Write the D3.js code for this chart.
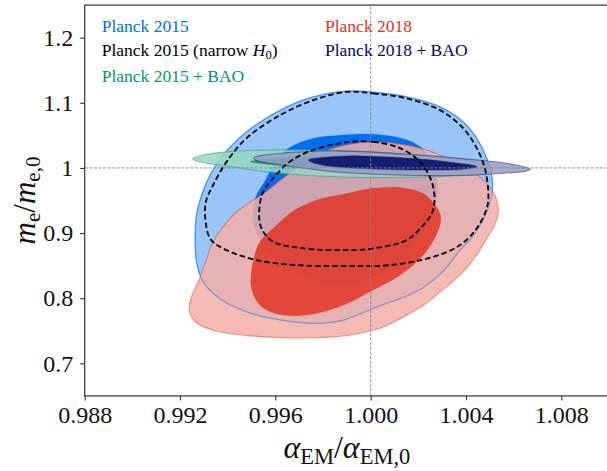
<!DOCTYPE html>
<html><head><meta charset="utf-8">
<script src="https://cdn.jsdelivr.net/npm/d3@7"></script>
<style>body{margin:0;background:#fff} svg{display:block} text{font-family:"Liberation Serif","DejaVu Serif","Noto Serif","Times New Roman",serif;}</style>
</head><body><svg id="c" width="607" height="471"></svg>
<script>
// ---- data (alpha_EM/alpha_EM,0 , m_e/m_e,0) ----
const xTicks = [0.988, 0.992, 0.996, 1.000, 1.004, 1.008];
const xTickLabels = ["0.988", "0.992", "0.996", "1.000", "1.004", "1.008"];
const yTicks = [0.7, 0.8, 0.9, 1.0, 1.1, 1.2];
const yTickLabels = ["0.7", "0.8", "0.9", "1", "1.1", "1.2"];

const planck2015Outer = [[0.99899,1.1179],[1.00011,1.1164],[1.00151,1.1092],[1.00291,1.0938],[1.00388,1.0708],[1.00445,1.0456],[1.00487,1.0149],[1.00511,0.9790],[1.00508,0.9585],[1.00495,0.9400],[1.00468,0.9174],[1.00427,0.8939],[1.00375,0.8739],[1.00305,0.8415],[1.00219,0.8159],[1.00136,0.8010],[1.00050,0.7898],[0.99963,0.7769],[0.99872,0.7651],[0.99760,0.7615],[0.99620,0.7667],[0.99479,0.7790],[0.99367,0.7995],[0.99297,0.8251],[0.99269,0.8559],[0.99263,0.8918],[0.99269,0.9277],[0.99291,0.9585],[0.99326,0.9892],[0.99381,1.0200],[0.99479,1.0554],[0.99620,1.0887],[0.99760,1.1092]];
const planck2015Inner = [[0.99872,1.0503],[1.00011,1.0518],[1.00151,1.0431],[1.00224,1.0272],[1.00265,1.0015],[1.00281,0.9708],[1.00273,0.9451],[1.00245,0.9195],[1.00208,0.8938],[1.00135,0.8631],[1.00037,0.8374],[0.99912,0.8226],[0.99800,0.8251],[0.99661,0.8456],[0.99583,0.8682],[0.99518,0.9041],[0.99506,0.9297],[0.99518,0.9554],[0.99563,0.9841],[0.99599,1.0118],[0.99664,1.0323],[0.99760,1.0456]];
const planck2018Outer = [[1.00011,1.0400],[1.00151,1.0354],[1.00291,1.0200],[1.00429,0.9944],[1.00513,0.9636],[1.00536,0.9349],[1.00521,0.9133],[1.00487,0.8918],[1.00443,0.8656],[1.00388,0.8405],[1.00313,0.8159],[1.00221,0.7892],[1.00135,0.7708],[1.00054,0.7559],[0.99956,0.7462],[0.99875,0.7415],[0.99745,0.7390],[0.99615,0.7395],[0.99485,0.7426],[0.99356,0.7492],[0.99266,0.7631],[0.99239,0.7810],[0.99250,0.8041],[0.99276,0.8251],[0.99307,0.8554],[0.99339,0.8867],[0.99380,0.9092],[0.99429,0.9297],[0.99485,0.9451],[0.99550,0.9605],[0.99615,0.9795],[0.99690,0.9995],[0.99800,1.0246],[0.99912,1.0364]];
const planck2018Inner = [[0.99872,0.9585],[1.00011,0.9687],[1.00123,0.9697],[1.00221,0.9605],[1.00276,0.9400],[1.00294,0.9246],[1.00281,0.9021],[1.00221,0.8662],[1.00123,0.8354],[1.00011,0.8128],[0.99891,0.7903],[0.99760,0.7759],[0.99618,0.7749],[0.99536,0.7892],[0.99500,0.8149],[0.99500,0.8405],[0.99513,0.8656],[0.99536,0.8867],[0.99606,0.9123],[0.99680,0.9349],[0.99778,0.9513]];
const narrowH0Outer = [[0.99899,1.1169],[1.00011,1.1144],[1.00151,1.1067],[1.00291,1.0887],[1.00388,1.0610],[1.00445,1.0303],[1.00479,0.9995],[1.00494,0.9585],[1.00487,0.9380],[1.00445,0.9072],[1.00375,0.8815],[1.00263,0.8636],[1.00081,0.8508],[0.99912,0.8492],[0.99690,0.8508],[0.99521,0.8585],[0.99381,0.8764],[0.99326,0.8918],[0.99305,0.9277],[0.99310,0.9503],[0.99339,0.9738],[0.99396,1.0097],[0.99479,1.0456],[0.99620,1.0810],[0.99760,1.1041]];
const narrowH0Inner = [[0.99912,1.0400],[1.00011,1.0400],[1.00123,1.0303],[1.00206,1.0097],[1.00256,0.9790],[1.00268,0.9503],[1.00256,0.9297],[1.00221,0.9123],[1.00151,0.8892],[1.00011,0.8764],[0.99912,0.8738],[0.99718,0.8764],[0.99591,0.8867],[0.99542,0.9072],[0.99532,0.9328],[0.99549,0.9636],[0.99591,0.9841],[0.99661,1.0097],[0.99760,1.0277]];
const bao2015Outer = [[0.99253,1.0138],[0.99307,1.0205],[0.99409,1.0251],[0.99620,1.0277],[0.99872,1.0262],[1.00070,1.0231],[1.00291,1.0174],[1.00430,1.0097],[1.00500,1.0026],[1.00515,0.9969],[1.00492,0.9923],[1.00430,0.9892],[1.00151,0.9856],[0.99912,0.9856],[0.99620,0.9918],[0.99409,1.0021],[0.99291,1.0087]];
const bao2015Inner = [[0.99494,1.0097],[0.99583,1.0138],[0.99745,1.0169],[0.99989,1.0169],[1.00232,1.0128],[1.00394,1.0067],[1.00451,1.0015],[1.00394,0.9964],[1.00232,0.9954],[0.99989,0.9974],[0.99745,1.0015],[0.99583,1.0051]];
const bao2018Outer = [[0.99510,1.0159],[0.99583,1.0210],[0.99760,1.0256],[0.99872,1.0262],[1.00151,1.0210],[1.00430,1.0128],[1.00570,1.0072],[1.00646,1.0015],[1.00670,0.9979],[1.00646,0.9944],[1.00570,0.9923],[1.00430,0.9892],[1.00151,0.9887],[0.99872,0.9933],[0.99713,1.0000],[0.99583,1.0067],[0.99518,1.0118]];
const bao2018Inner = [[0.99739,1.0123],[0.99794,1.0159],[0.99899,1.0185],[1.00011,1.0179],[1.00221,1.0133],[1.00360,1.0077],[1.00435,1.0036],[1.00445,1.0015],[1.00394,0.9985],[1.00291,0.9969],[1.00011,0.9985],[0.99872,1.0010],[0.99794,1.0046],[0.99753,1.0087]];

const legendLabels = ["Planck 2015", "Planck 2015 (narrow H_0)", "Planck 2015 + BAO", "Planck 2018", "Planck 2018 + BAO"];
const legendColors = ["#006FED", "#000000", "#009966", "#E03424", "#000866"];

// ---- drawing ----
const svg = d3.select("#c");
const x = d3.scaleLinear().domain([0.988, 1.010]).range([84.7, 609]);
const y = d3.scaleLinear().domain([0.65, 1.25]).range([395.9, 5.1]);

function lighten(c, f) {
  const r = d3.rgb(c);
  return d3.rgb(r.r*(1-f)+255*f, r.g*(1-f)+255*f, r.b*(1-f)+255*f).formatHex();
}
const line = d3.line().x(d => x(d[0])).y(d => y(d[1])).curve(d3.curveCatmullRomClosed.alpha(0.5));

svg.append("defs").append("clipPath").attr("id","clip")
  .append("rect").attr("x",84.7).attr("y",5.1).attr("width",609-84.7).attr("height",395.9-5.1);
const g = svg.append("g").attr("clip-path","url(#clip)");

const filled = [
  {outer: planck2015Outer, inner: planck2015Inner, color: "#006FED", alpha: 1},
  {outer: planck2018Outer, inner: planck2018Inner, color: "#E03424", alpha: 0.85},
  {outer: bao2015Outer, inner: bao2015Inner, color: "#009966", alpha: 0.85},
  {outer: bao2018Outer, inner: bao2018Inner, color: "#000866", alpha: 0.85}
];
filled.forEach((s, k) => {
  g.append("path").attr("d", line(s.outer))
    .attr("fill", lighten(s.color, 0.6)).attr("fill-opacity", s.alpha)
    .attr("stroke", s.color).attr("stroke-opacity", 0.45).attr("stroke-width", 1.1);
  g.append("path").attr("d", line(s.inner))
    .attr("fill", s.color).attr("fill-opacity", s.alpha)
    .attr("stroke", s.color).attr("stroke-opacity", 0.3).attr("stroke-width", 0.8);
  if (k === 1) {
    // Planck 2015 outer contour line remains visible through the Planck 2018 fill
    g.append("path").attr("d", line(planck2015Outer)).attr("fill","none")
      .attr("stroke", "#006FED").attr("stroke-opacity", 0.42).attr("stroke-width", 1.2);
  }
});
[narrowH0Outer, narrowH0Inner].forEach(c => {
  g.append("path").attr("d", line(c)).attr("fill","none")
    .attr("stroke","#000").attr("stroke-width",1.8).attr("stroke-dasharray","5.5,3");
});

// legend
const legPos = [[101.7,32.3],[101.7,56],[101.7,81.7],[325,32.3],[325,56]];
legendLabels.forEach((lab, i) => {
  const t = svg.append("text").attr("x", legPos[i][0]).attr("y", legPos[i][1])
    .attr("font-size", 17.5).attr("fill", legendColors[i]);
  const m = lab.match(/^(.*)H_0(.*)$/);
  if (m) {
    t.append("tspan").text(m[1]);
    t.append("tspan").attr("font-style","italic").text("H");
    t.append("tspan").attr("font-size",12.5).attr("dy",3).text("0");
    t.append("tspan").attr("dy",-3).text(m[2]);
  } else t.text(lab);
});

// reference lines
g.append("line").attr("x1", x(1)).attr("x2", x(1)).attr("y1", y(0.65)).attr("y2", y(1.25))
  .attr("stroke","#888").attr("stroke-width",0.9).attr("stroke-dasharray","3,1.6");
g.append("line").attr("x1", x(0.988)).attr("x2", x(1.010)).attr("y1", y(1)).attr("y2", y(1))
  .attr("stroke","#888").attr("stroke-width",0.9).attr("stroke-dasharray","3,1.6");

// axes
const xAxis = d3.axisBottom(x).tickValues(xTicks).tickFormat((d,i) => xTickLabels[i]).tickSize(4.5).tickPadding(6).tickSizeOuter(0);
const yAxis = d3.axisLeft(y).tickValues(yTicks).tickFormat((d,i) => yTickLabels[i]).tickSize(4.5).tickPadding(7).tickSizeOuter(0);
const gx = svg.append("g").attr("transform", `translate(0,${y(0.65)})`).call(xAxis);
const gy = svg.append("g").attr("transform", `translate(${x(0.988)},0)`).call(yAxis);
[gx, gy].forEach(a => {
  a.attr("font-family", null);
  a.selectAll("text").attr("font-size", 24).attr("fill","#111");
  a.selectAll("line").attr("stroke","#333").attr("stroke-width",1.1);
  a.select(".domain").remove();
});
svg.append("rect").attr("x",84.7).attr("y",5.1).attr("width",609-84.7).attr("height",395.9-5.1)
  .attr("fill","none").attr("stroke","#333").attr("stroke-width",1.2);

// axis labels
const xl = svg.append("text").attr("x", (84.7+609)/2).attr("y", 458).attr("text-anchor","middle")
  .attr("font-size", 32).attr("fill","#111");
xl.append("tspan").attr("font-style","italic").text("α");
xl.append("tspan").attr("font-size",22.5).attr("dy",6).text("EM");
xl.append("tspan").attr("dy",-6).text("/");
xl.append("tspan").attr("font-style","italic").text("α");
xl.append("tspan").attr("font-size",22.5).attr("dy",6).text("EM,0");

const yl = svg.append("text").attr("transform", `translate(35,${(5.1+395.9)/2}) rotate(-90)`)
  .attr("text-anchor","middle").attr("font-size", 31).attr("fill","#111");
yl.append("tspan").attr("font-style","italic").text("m");
yl.append("tspan").attr("font-size",21).attr("dy",5).text("e");
yl.append("tspan").attr("dy",-5).text("/");
yl.append("tspan").attr("font-style","italic").text("m");
yl.append("tspan").attr("font-size",21).attr("dy",5).text("e,0");
</script></body></html>
